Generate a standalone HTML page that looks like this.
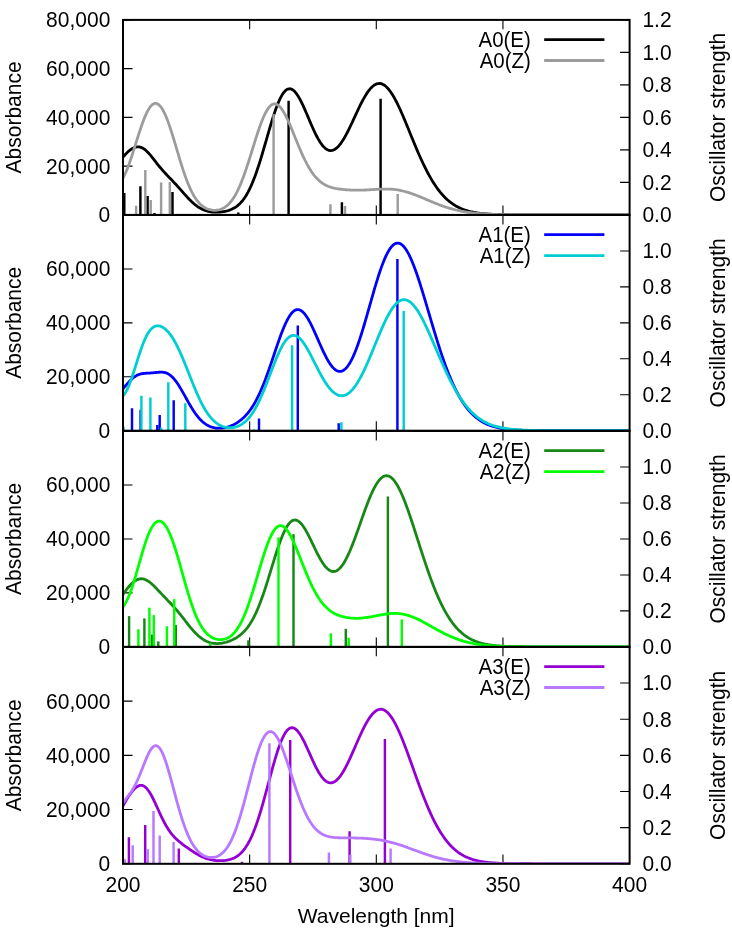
<!DOCTYPE html><html><head><meta charset="utf-8"><style>html,body{margin:0;padding:0;background:#fff;width:732px;height:932px;overflow:hidden}svg{display:block;will-change:transform}</style></head><body>
<svg width="732" height="932" viewBox="0 0 732 932">
<rect width="732" height="932" fill="#fff"/>
<clipPath id="c0"><rect x="123" y="19.9" width="506.6" height="195"/></clipPath>
<path d="M123,214.9h9.5M123,166.15h9.5M123,117.4h9.5M123,68.65h9.5M123,19.9h9.5M629.6,214.9h-9.5M629.6,182.4h-9.5M629.6,149.9h-9.5M629.6,117.4h-9.5M629.6,84.9h-9.5M629.6,52.4h-9.5M629.6,19.9h-9.5M249.65,19.9v9.4M249.65,214.9v-9.4M376.3,19.9v9.4M376.3,214.9v-9.4M502.95,19.9v9.4M502.95,214.9v-9.4" stroke="#000" stroke-width="1.1" fill="none"/>
<g clip-path="url(#c0)"><path d="M123,157.17 124,155.96 125,154.81 126,153.73 127,152.72 128,151.78 129,150.9 130,150.1 131,149.38 132,148.74 133,148.19 134,147.72 135,147.35 136,147.09 137,146.92 138,146.87 139,146.93 140,147.1 141,147.39 142,147.8 143,148.32 144,148.95 145,149.69 146,150.53 147,151.46 148,152.47 149,153.55 150,154.69 151,155.89 152,157.12 153,158.39 154,159.67 155,160.96 156,162.25 157,163.53 158,164.8 159,166.04 160,167.26 161,168.46 162,169.63 163,170.77 164,171.89 165,172.99 166,174.06 167,175.12 168,176.17 169,177.21 170,178.24 171,179.28 172,180.32 173,181.37 174,182.42 175,183.49 176,184.57 177,185.66 178,186.77 179,187.88 180,189.01 181,190.14 182,191.28 183,192.41 184,193.55 185,194.67 186,195.78 187,196.88 188,197.95 189,199 190,200.02 191,201.01 192,201.97 193,202.88 194,203.76 195,204.59 196,205.38 197,206.12 198,206.81 199,207.46 200,208.06 201,208.62 202,209.13 203,209.59 204,210.01 205,210.39 206,210.73 207,211.02 208,211.28 209,211.51 210,211.7 211,211.86 212,211.99 213,212.08 214,212.16 215,212.2 216,212.22 217,212.22 218,212.19 219,212.14 220,212.07 221,211.97 222,211.85 223,211.71 224,211.55 225,211.35 226,211.13 227,210.88 228,210.6 229,210.29 230,209.93 231,209.54 232,209.1 233,208.61 234,208.07 235,207.47 236,206.81 237,206.09 238,205.29 239,204.41 240,203.45 241,202.4 242,201.26 243,200.02 244,198.67 245,197.22 246,195.66 247,193.98 248,192.18 249,190.26 250,188.22 251,186.06 252,183.77 253,181.35 254,178.82 255,176.17 256,173.4 257,170.52 258,167.54 259,164.47 260,161.3 261,158.05 262,154.74 263,151.37 264,147.95 265,144.5 266,141.03 267,137.55 268,134.09 269,130.65 270,127.25 271,123.91 272,120.64 273,117.45 274,114.38 275,111.42 276,108.59 277,105.91 278,103.38 279,101.03 280,98.87 281,96.89 282,95.12 283,93.55 284,92.2 285,91.07 286,90.16 287,89.47 288,89.02 289,88.78 290,88.77 291,88.97 292,89.39 293,90.02 294,90.84 295,91.85 296,93.05 297,94.41 298,95.93 299,97.6 300,99.4 301,101.32 302,103.35 303,105.46 304,107.66 305,109.91 306,112.22 307,114.56 308,116.91 309,119.27 310,121.62 311,123.95 312,126.24 313,128.49 314,130.67 315,132.78 316,134.82 317,136.76 318,138.6 319,140.33 320,141.94 321,143.43 322,144.79 323,146.01 324,147.1 325,148.04 326,148.83 327,149.47 328,149.97 329,150.31 330,150.5 331,150.53 332,150.42 333,150.15 334,149.74 335,149.19 336,148.49 337,147.66 338,146.69 339,145.6 340,144.39 341,143.05 342,141.61 343,140.07 344,138.43 345,136.7 346,134.89 347,133 348,131.05 349,129.05 350,126.99 351,124.9 352,122.77 353,120.62 354,118.46 355,116.29 356,114.13 357,111.99 358,109.86 359,107.77 360,105.72 361,103.71 362,101.76 363,99.88 364,98.06 365,96.33 366,94.68 367,93.12 368,91.66 369,90.31 370,89.07 371,87.94 372,86.93 373,86.04 374,85.28 375,84.65 376,84.14 377,83.78 378,83.54 379,83.45 380,83.48 381,83.66 382,83.96 383,84.41 384,84.98 385,85.68 386,86.51 387,87.47 388,88.54 389,89.74 390,91.04 391,92.46 392,93.98 393,95.6 394,97.31 395,99.11 396,101 397,102.96 398,105 399,107.1 400,109.27 401,111.49 402,113.75 403,116.06 404,118.41 405,120.79 406,123.19 407,125.62 408,128.06 409,130.5 410,132.96 411,135.41 412,137.86 413,140.29 414,142.72 415,145.12 416,147.5 417,149.86 418,152.19 419,154.48 420,156.74 421,158.96 422,161.14 423,163.28 424,165.38 425,167.42 426,169.42 427,171.37 428,173.27 429,175.11 430,176.91 431,178.65 432,180.34 433,181.97 434,183.55 435,185.08 436,186.55 437,187.97 438,189.34 439,190.65 440,191.92 441,193.13 442,194.3 443,195.41 444,196.48 445,197.51 446,198.48 447,199.41 448,200.3 449,201.15 450,201.96 451,202.73 452,203.45 453,204.15 454,204.81 455,205.43 456,206.02 457,206.58 458,207.11 459,207.61 460,208.08 461,208.52 462,208.94 463,209.34 464,209.71 465,210.06 466,210.39 467,210.7 468,210.99 469,211.26 470,211.52 471,211.76 472,211.98 473,212.19 474,212.38 475,212.57 476,212.74 477,212.9 478,213.05 479,213.19 480,213.31 481,213.43 482,213.55 483,213.65 484,213.75 485,213.84 486,213.92 487,214 488,214.07 489,214.13 490,214.19 491,214.25 492,214.3 493,214.35 494,214.4 495,214.44 496,214.48 497,214.51 498,214.54 499,214.57 500,214.6 501,214.63 502,214.65 503,214.67 504,214.69 505,214.71 506,214.72 507,214.74 508,214.75 509,214.77 510,214.78 511,214.79 512,214.8 513,214.81 514,214.82 515,214.82 516,214.83 517,214.84 518,214.84 519,214.85 520,214.85 521,214.86 522,214.86 523,214.86 524,214.87 525,214.87 526,214.87 527,214.88 528,214.88 529,214.88 530,214.88 531,214.88 532,214.89 533,214.89 534,214.89 535,214.89 536,214.89 537,214.89 538,214.89 539,214.89 540,214.89 541,214.89 542,214.89 543,214.9 544,214.9 545,214.9 546,214.9 547,214.9 548,214.9 549,214.9 550,214.9 551,214.9 552,214.9 553,214.9 554,214.9 555,214.9 556,214.9 557,214.9 558,214.9 559,214.9 560,214.9 561,214.9 562,214.9 563,214.9 564,214.9 565,214.9 566,214.9 567,214.9 568,214.9 569,214.9 570,214.9 571,214.9 572,214.9 573,214.9 574,214.9 575,214.9 576,214.9 577,214.9 578,214.9 579,214.9 580,214.9 581,214.9 582,214.9 583,214.9 584,214.9 585,214.9 586,214.9 587,214.9 588,214.9 589,214.9 590,214.9 591,214.9 592,214.9 593,214.9 594,214.9 595,214.9 596,214.9 597,214.9 598,214.9 599,214.9 600,214.9 601,214.9 602,214.9 603,214.9 604,214.9 605,214.9 606,214.9 607,214.9 608,214.9 609,214.9 610,214.9 611,214.9 612,214.9 613,214.9 614,214.9 615,214.9 616,214.9 617,214.9 618,214.9 619,214.9 620,214.9 621,214.9 622,214.9 623,214.9 624,214.9 625,214.9 626,214.9 627,214.9 628,214.9 629,214.9" fill="none" stroke="#000000" stroke-width="2.8" stroke-linejoin="round" stroke-linecap="round"/><line x1="124.3" y1="214.9" x2="124.3" y2="193.1" stroke="#000000" stroke-width="2.45"/><line x1="140.4" y1="214.9" x2="140.4" y2="186.2" stroke="#000000" stroke-width="2.45"/><line x1="147.6" y1="214.9" x2="147.6" y2="195.9" stroke="#000000" stroke-width="2.45"/><line x1="154.5" y1="214.9" x2="154.5" y2="213" stroke="#000000" stroke-width="2.45"/><line x1="172.5" y1="214.9" x2="172.5" y2="192" stroke="#000000" stroke-width="2.45"/><line x1="238.3" y1="214.9" x2="238.3" y2="212.5" stroke="#000000" stroke-width="2.45"/><line x1="288.6" y1="214.9" x2="288.6" y2="100.8" stroke="#000000" stroke-width="2.45"/><line x1="341.9" y1="214.9" x2="341.9" y2="202.3" stroke="#000000" stroke-width="2.45"/><line x1="380.6" y1="214.9" x2="380.6" y2="98.8" stroke="#000000" stroke-width="2.45"/><path d="M123,178.02 124,176.15 125,174.08 126,171.84 127,169.43 128,166.88 129,164.19 130,161.39 131,158.47 132,155.47 133,152.39 134,149.26 135,146.08 136,142.89 137,139.7 138,136.53 139,133.4 140,130.33 141,127.35 142,124.47 143,121.71 144,119.1 145,116.64 146,114.35 147,112.26 148,110.36 149,108.67 150,107.21 151,105.98 152,104.98 153,104.22 154,103.71 155,103.45 156,103.44 157,103.68 158,104.17 159,104.91 160,105.89 161,107.11 162,108.56 163,110.23 164,112.12 165,114.21 166,116.5 167,118.97 168,121.6 169,124.38 170,127.3 171,130.34 172,133.48 173,136.7 174,139.99 175,143.32 176,146.68 177,150.05 178,153.42 179,156.76 180,160.06 181,163.3 182,166.48 183,169.57 184,172.57 185,175.47 186,178.25 187,180.92 188,183.46 189,185.87 190,188.15 191,190.3 192,192.31 193,194.2 194,195.95 195,197.57 196,199.07 197,200.45 198,201.71 199,202.86 200,203.91 201,204.85 202,205.7 203,206.47 204,207.15 205,207.75 206,208.27 207,208.73 208,209.13 209,209.46 210,209.73 211,209.95 212,210.11 213,210.23 214,210.29 215,210.29 216,210.25 217,210.15 218,210 219,209.79 220,209.53 221,209.19 222,208.8 223,208.33 224,207.79 225,207.17 226,206.46 227,205.67 228,204.78 229,203.8 230,202.72 231,201.52 232,200.22 233,198.8 234,197.26 235,195.61 236,193.83 237,191.93 238,189.9 239,187.75 240,185.48 241,183.09 242,180.58 243,177.97 244,175.24 245,172.42 246,169.51 247,166.52 248,163.46 249,160.34 250,157.17 251,153.97 252,150.75 253,147.52 254,144.3 255,141.1 256,137.94 257,134.84 258,131.81 259,128.87 260,126.03 261,123.31 262,120.72 263,118.28 264,115.99 265,113.88 266,111.95 267,110.21 268,108.67 269,107.33 270,106.21 271,105.31 272,104.62 273,104.16 274,103.91 275,103.89 276,104.08 277,104.48 278,105.09 279,105.9 280,106.9 281,108.08 282,109.43 283,110.94 284,112.61 285,114.41 286,116.34 287,118.38 288,120.52 289,122.74 290,125.04 291,127.4 292,129.8 293,132.24 294,134.7 295,137.17 296,139.64 297,142.09 298,144.53 299,146.93 300,149.29 301,151.6 302,153.86 303,156.06 304,158.19 305,160.25 306,162.23 307,164.13 308,165.95 309,167.69 310,169.35 311,170.92 312,172.4 313,173.8 314,175.12 315,176.36 316,177.51 317,178.59 318,179.59 319,180.53 320,181.39 321,182.19 322,182.92 323,183.59 324,184.21 325,184.78 326,185.3 327,185.77 328,186.2 329,186.59 330,186.95 331,187.28 332,187.57 333,187.84 334,188.08 335,188.3 336,188.5 337,188.68 338,188.85 339,189 340,189.13 341,189.26 342,189.37 343,189.48 344,189.57 345,189.66 346,189.74 347,189.81 348,189.88 349,189.93 350,189.99 351,190.03 352,190.07 353,190.1 354,190.13 355,190.15 356,190.16 357,190.17 358,190.17 359,190.17 360,190.16 361,190.14 362,190.12 363,190.09 364,190.06 365,190.02 366,189.98 367,189.93 368,189.88 369,189.82 370,189.76 371,189.71 372,189.64 373,189.58 374,189.52 375,189.46 376,189.4 377,189.34 378,189.28 379,189.23 380,189.18 381,189.14 382,189.11 383,189.08 384,189.06 385,189.05 386,189.04 387,189.05 388,189.07 389,189.1 390,189.15 391,189.2 392,189.27 393,189.36 394,189.45 395,189.57 396,189.69 397,189.83 398,189.99 399,190.16 400,190.35 401,190.55 402,190.77 403,191 404,191.25 405,191.51 406,191.78 407,192.07 408,192.37 409,192.69 410,193.01 411,193.35 412,193.7 413,194.06 414,194.43 415,194.8 416,195.19 417,195.58 418,195.98 419,196.39 420,196.8 421,197.22 422,197.64 423,198.06 424,198.49 425,198.91 426,199.34 427,199.77 428,200.2 429,200.62 430,201.05 431,201.47 432,201.89 433,202.3 434,202.71 435,203.12 436,203.52 437,203.92 438,204.31 439,204.69 440,205.07 441,205.44 442,205.8 443,206.15 444,206.5 445,206.84 446,207.17 447,207.49 448,207.8 449,208.11 450,208.41 451,208.69 452,208.97 453,209.24 454,209.5 455,209.76 456,210 457,210.23 458,210.46 459,210.68 460,210.89 461,211.09 462,211.29 463,211.47 464,211.65 465,211.82 466,211.99 467,212.15 468,212.3 469,212.44 470,212.58 471,212.71 472,212.83 473,212.95 474,213.06 475,213.17 476,213.27 477,213.37 478,213.46 479,213.55 480,213.63 481,213.71 482,213.78 483,213.85 484,213.92 485,213.98 486,214.04 487,214.1 488,214.15 489,214.2 490,214.24 491,214.29 492,214.33 493,214.37 494,214.4 495,214.44 496,214.47 497,214.5 498,214.53 499,214.55 500,214.58 501,214.6 502,214.62 503,214.64 504,214.66 505,214.68 506,214.69 507,214.71 508,214.72 509,214.74 510,214.75 511,214.76 512,214.77 513,214.78 514,214.79 515,214.8 516,214.81 517,214.81 518,214.82 519,214.83 520,214.83 521,214.84 522,214.84 523,214.85 524,214.85 525,214.86 526,214.86 527,214.86 528,214.87 529,214.87 530,214.87 531,214.87 532,214.88 533,214.88 534,214.88 535,214.88 536,214.88 537,214.88 538,214.89 539,214.89 540,214.89 541,214.89 542,214.89 543,214.89 544,214.89 545,214.89 546,214.89 547,214.89 548,214.89 549,214.89 550,214.9 551,214.9 552,214.9 553,214.9 554,214.9 555,214.9 556,214.9 557,214.9 558,214.9 559,214.9 560,214.9 561,214.9 562,214.9 563,214.9 564,214.9 565,214.9 566,214.9 567,214.9 568,214.9 569,214.9 570,214.9 571,214.9 572,214.9 573,214.9 574,214.9 575,214.9 576,214.9 577,214.9 578,214.9 579,214.9 580,214.9 581,214.9 582,214.9 583,214.9 584,214.9 585,214.9 586,214.9 587,214.9 588,214.9 589,214.9 590,214.9 591,214.9 592,214.9 593,214.9 594,214.9 595,214.9 596,214.9 597,214.9 598,214.9 599,214.9 600,214.9 601,214.9 602,214.9 603,214.9 604,214.9 605,214.9 606,214.9 607,214.9 608,214.9 609,214.9 610,214.9 611,214.9 612,214.9 613,214.9 614,214.9 615,214.9 616,214.9 617,214.9 618,214.9 619,214.9 620,214.9 621,214.9 622,214.9 623,214.9 624,214.9 625,214.9 626,214.9 627,214.9 628,214.9 629,214.9" fill="none" stroke="#9c9c9c" stroke-width="2.8" stroke-linejoin="round" stroke-linecap="round"/><line x1="136.1" y1="214.9" x2="136.1" y2="205.7" stroke="#9c9c9c" stroke-width="2.45"/><line x1="145.3" y1="214.9" x2="145.3" y2="170.1" stroke="#9c9c9c" stroke-width="2.45"/><line x1="150.7" y1="214.9" x2="150.7" y2="200" stroke="#9c9c9c" stroke-width="2.45"/><line x1="161.1" y1="214.9" x2="161.1" y2="182.4" stroke="#9c9c9c" stroke-width="2.45"/><line x1="169.8" y1="214.9" x2="169.8" y2="181.9" stroke="#9c9c9c" stroke-width="2.45"/><line x1="273.6" y1="214.9" x2="273.6" y2="114.1" stroke="#9c9c9c" stroke-width="2.45"/><line x1="330.4" y1="214.9" x2="330.4" y2="204.3" stroke="#9c9c9c" stroke-width="2.45"/><line x1="345" y1="214.9" x2="345" y2="206.1" stroke="#9c9c9c" stroke-width="2.45"/><line x1="397.7" y1="214.9" x2="397.7" y2="193.9" stroke="#9c9c9c" stroke-width="2.45"/></g>
<rect x="123" y="19.9" width="506.6" height="195" fill="none" stroke="#000" stroke-width="2"/>
<g font-family="Liberation Sans, sans-serif" font-size="21" fill="#000"><text transform="translate(110.3,222.3) scale(1,1.08)" text-anchor="end">0</text><text transform="translate(110.3,173.55) scale(1,1.08)" text-anchor="end">20,000</text><text transform="translate(110.3,124.8) scale(1,1.08)" text-anchor="end">40,000</text><text transform="translate(110.3,76.05) scale(1,1.08)" text-anchor="end">60,000</text><text transform="translate(110.3,27.3) scale(1,1.08)" text-anchor="end">80,000</text><text transform="translate(642.4,222.3) scale(1,1.08)">0.0</text><text transform="translate(642.4,189.8) scale(1,1.08)">0.2</text><text transform="translate(642.4,157.3) scale(1,1.08)">0.4</text><text transform="translate(642.4,124.8) scale(1,1.08)">0.6</text><text transform="translate(642.4,92.3) scale(1,1.08)">0.8</text><text transform="translate(642.4,59.8) scale(1,1.08)">1.0</text><text transform="translate(642.4,27.3) scale(1,1.08)">1.2</text><text transform="translate(21.2,117.4) rotate(-90) scale(1,1.06)" text-anchor="middle">Absorbance</text><text transform="translate(725.3,117.4) rotate(-90) scale(1,1.07)" text-anchor="middle">Oscillator strength</text><text transform="translate(530.8,46.6) scale(0.975,1.04)" text-anchor="end">A0(E)</text><text transform="translate(530.8,67.5) scale(0.975,1.04)" text-anchor="end">A0(Z)</text></g>
<path d="M544.2,39.6H604.4" stroke="#000000" stroke-width="2.8"/>
<path d="M544.2,60.5H604.4" stroke="#9c9c9c" stroke-width="2.8"/>
<clipPath id="c1"><rect x="123" y="215" width="506.6" height="215.7"/></clipPath>
<path d="M123,430.7h9.5M123,376.77h9.5M123,322.85h9.5M123,268.93h9.5M123,215h9.5M629.6,430.7h-9.5M629.6,394.75h-9.5M629.6,358.8h-9.5M629.6,322.85h-9.5M629.6,286.9h-9.5M629.6,250.95h-9.5M629.6,215h-9.5M249.65,215v9.4M249.65,430.7v-9.4M376.3,215v9.4M376.3,430.7v-9.4M502.95,215v9.4M502.95,430.7v-9.4" stroke="#000" stroke-width="1.1" fill="none"/>
<g clip-path="url(#c1)"><path d="M123,388.83 124,387.62 125,386.42 126,385.24 127,384.08 128,382.94 129,381.85 130,380.8 131,379.81 132,378.88 133,378.02 134,377.23 135,376.52 136,375.89 137,375.34 138,374.87 139,374.47 140,374.14 141,373.88 142,373.67 143,373.51 144,373.39 145,373.3 146,373.23 147,373.18 148,373.13 149,373.08 150,373.03 151,372.97 152,372.89 153,372.81 154,372.72 155,372.61 156,372.51 157,372.4 158,372.31 159,372.23 160,372.18 161,372.16 162,372.19 163,372.27 164,372.41 165,372.63 166,372.93 167,373.31 168,373.79 169,374.37 170,375.06 171,375.85 172,376.75 173,377.75 174,378.86 175,380.07 176,381.37 177,382.77 178,384.25 179,385.81 180,387.43 181,389.11 182,390.83 183,392.59 184,394.38 185,396.18 186,397.99 187,399.79 188,401.57 189,403.33 190,405.06 191,406.75 192,408.39 193,409.98 194,411.5 195,412.97 196,414.37 197,415.69 198,416.95 199,418.13 200,419.24 201,420.27 202,421.23 203,422.12 204,422.94 205,423.69 206,424.37 207,424.99 208,425.54 209,426.03 210,426.47 211,426.85 212,427.18 213,427.46 214,427.69 215,427.88 216,428.02 217,428.12 218,428.18 219,428.21 220,428.19 221,428.15 222,428.06 223,427.94 224,427.79 225,427.61 226,427.39 227,427.14 228,426.86 229,426.55 230,426.2 231,425.82 232,425.4 233,424.95 234,424.46 235,423.93 236,423.37 237,422.76 238,422.11 239,421.42 240,420.68 241,419.9 242,419.06 243,418.17 244,417.23 245,416.23 246,415.16 247,414.04 248,412.85 249,411.59 250,410.25 251,408.85 252,407.36 253,405.8 254,404.15 255,402.43 256,400.61 257,398.71 258,396.72 259,394.65 260,392.48 261,390.23 262,387.9 263,385.48 264,382.98 265,380.4 266,377.75 267,375.04 268,372.26 269,369.43 270,366.55 271,363.63 272,360.69 273,357.72 274,354.74 275,351.77 276,348.81 277,345.87 278,342.97 279,340.11 280,337.32 281,334.6 282,331.97 283,329.44 284,327.01 285,324.7 286,322.53 287,320.5 288,318.62 289,316.89 290,315.34 291,313.96 292,312.77 293,311.75 294,310.93 295,310.3 296,309.87 297,309.62 298,309.58 299,309.72 300,310.05 301,310.57 302,311.27 303,312.14 304,313.17 305,314.37 306,315.72 307,317.21 308,318.82 309,320.56 310,322.41 311,324.36 312,326.39 313,328.49 314,330.66 315,332.87 316,335.12 317,337.4 318,339.68 319,341.96 320,344.23 321,346.48 322,348.69 323,350.85 324,352.95 325,354.98 326,356.93 327,358.79 328,360.56 329,362.21 330,363.76 331,365.18 332,366.47 333,367.62 334,368.63 335,369.49 336,370.2 337,370.75 338,371.15 339,371.37 340,371.44 341,371.33 342,371.05 343,370.6 344,369.98 345,369.18 346,368.21 347,367.08 348,365.77 349,364.3 350,362.67 351,360.87 352,358.92 353,356.82 354,354.57 355,352.18 356,349.66 357,347 358,344.23 359,341.34 360,338.34 361,335.25 362,332.07 363,328.81 364,325.48 365,322.09 366,318.65 367,315.17 368,311.66 369,308.13 370,304.59 371,301.06 372,297.55 373,294.06 374,290.6 375,287.2 376,283.85 377,280.58 378,277.38 379,274.28 380,271.27 381,268.38 382,265.61 383,262.96 384,260.45 385,258.09 386,255.88 387,253.83 388,251.94 389,250.22 390,248.68 391,247.32 392,246.14 393,245.15 394,244.35 395,243.74 396,243.32 397,243.1 398,243.06 399,243.22 400,243.57 401,244.1 402,244.82 403,245.73 404,246.81 405,248.06 406,249.49 407,251.07 408,252.82 409,254.72 410,256.76 411,258.94 412,261.26 413,263.7 414,266.26 415,268.93 416,271.7 417,274.56 418,277.51 419,280.54 420,283.65 421,286.81 422,290.03 423,293.3 424,296.61 425,299.95 426,303.31 427,306.7 428,310.09 429,313.49 430,316.89 431,320.28 432,323.66 433,327.02 434,330.35 435,333.65 436,336.92 437,340.15 438,343.34 439,346.48 440,349.57 441,352.6 442,355.58 443,358.5 444,361.35 445,364.15 446,366.87 447,369.53 448,372.13 449,374.65 450,377.1 451,379.48 452,381.79 453,384.02 454,386.19 455,388.28 456,390.31 457,392.26 458,394.14 459,395.95 460,397.7 461,399.38 462,400.99 463,402.54 464,404.02 465,405.44 466,406.8 467,408.1 468,409.35 469,410.53 470,411.67 471,412.75 472,413.78 473,414.76 474,415.69 475,416.57 476,417.41 477,418.21 478,418.97 479,419.69 480,420.37 481,421.01 482,421.62 483,422.19 484,422.73 485,423.25 486,423.73 487,424.18 488,424.61 489,425.01 490,425.39 491,425.75 492,426.09 493,426.4 494,426.7 495,426.97 496,427.23 497,427.47 498,427.7 499,427.91 500,428.11 501,428.3 502,428.47 503,428.63 504,428.79 505,428.93 506,429.06 507,429.18 508,429.29 509,429.4 510,429.5 511,429.59 512,429.67 513,429.75 514,429.83 515,429.89 516,429.96 517,430.01 518,430.07 519,430.12 520,430.16 521,430.21 522,430.25 523,430.28 524,430.32 525,430.35 526,430.38 527,430.4 528,430.43 529,430.45 530,430.47 531,430.49 532,430.51 533,430.52 534,430.54 535,430.55 536,430.57 537,430.58 538,430.59 539,430.6 540,430.61 541,430.61 542,430.62 543,430.63 544,430.63 545,430.64 546,430.65 547,430.65 548,430.65 549,430.66 550,430.66 551,430.67 552,430.67 553,430.67 554,430.67 555,430.68 556,430.68 557,430.68 558,430.68 559,430.68 560,430.69 561,430.69 562,430.69 563,430.69 564,430.69 565,430.69 566,430.69 567,430.69 568,430.69 569,430.69 570,430.69 571,430.7 572,430.7 573,430.7 574,430.7 575,430.7 576,430.7 577,430.7 578,430.7 579,430.7 580,430.7 581,430.7 582,430.7 583,430.7 584,430.7 585,430.7 586,430.7 587,430.7 588,430.7 589,430.7 590,430.7 591,430.7 592,430.7 593,430.7 594,430.7 595,430.7 596,430.7 597,430.7 598,430.7 599,430.7 600,430.7 601,430.7 602,430.7 603,430.7 604,430.7 605,430.7 606,430.7 607,430.7 608,430.7 609,430.7 610,430.7 611,430.7 612,430.7 613,430.7 614,430.7 615,430.7 616,430.7 617,430.7 618,430.7 619,430.7 620,430.7 621,430.7 622,430.7 623,430.7 624,430.7 625,430.7 626,430.7 627,430.7 628,430.7 629,430.7" fill="none" stroke="#0000ff" stroke-width="2.8" stroke-linejoin="round" stroke-linecap="round"/><line x1="132" y1="430.7" x2="132" y2="408.3" stroke="#0000ff" stroke-width="2.45"/><line x1="140.6" y1="430.7" x2="140.6" y2="409.7" stroke="#0000ff" stroke-width="2.45"/><line x1="157.3" y1="430.7" x2="157.3" y2="425" stroke="#0000ff" stroke-width="2.45"/><line x1="159.7" y1="430.7" x2="159.7" y2="415" stroke="#0000ff" stroke-width="2.45"/><line x1="173.7" y1="430.7" x2="173.7" y2="400.3" stroke="#0000ff" stroke-width="2.45"/><line x1="259" y1="430.7" x2="259" y2="418.5" stroke="#0000ff" stroke-width="2.45"/><line x1="297.8" y1="430.7" x2="297.8" y2="325.6" stroke="#0000ff" stroke-width="2.45"/><line x1="338.7" y1="430.7" x2="338.7" y2="423.3" stroke="#0000ff" stroke-width="2.45"/><line x1="397.4" y1="430.7" x2="397.4" y2="259" stroke="#0000ff" stroke-width="2.45"/><path d="M123,395.84 124,394.72 125,393.34 126,391.7 127,389.82 128,387.69 129,385.35 130,382.8 131,380.08 132,377.2 133,374.2 134,371.1 135,367.94 136,364.75 137,361.55 138,358.38 139,355.27 140,352.24 141,349.32 142,346.52 143,343.87 144,341.38 145,339.07 146,336.95 147,335.01 148,333.27 149,331.72 150,330.36 151,329.2 152,328.22 153,327.41 154,326.78 155,326.31 156,325.99 157,325.82 158,325.79 159,325.88 160,326.1 161,326.44 162,326.89 163,327.44 164,328.11 165,328.87 166,329.74 167,330.71 168,331.77 169,332.94 170,334.2 171,335.56 172,337.02 173,338.58 174,340.23 175,341.98 176,343.82 177,345.75 178,347.76 179,349.85 180,352.03 181,354.27 182,356.57 183,358.93 184,361.34 185,363.8 186,366.29 187,368.8 188,371.33 189,373.87 190,376.41 191,378.94 192,381.45 193,383.93 194,386.39 195,388.8 196,391.16 197,393.47 198,395.72 199,397.91 200,400.02 201,402.06 202,404.03 203,405.91 204,407.71 205,409.42 206,411.05 207,412.59 208,414.04 209,415.41 210,416.7 211,417.9 212,419.01 213,420.05 214,421.01 215,421.89 216,422.7 217,423.44 218,424.11 219,424.72 220,425.26 221,425.74 222,426.17 223,426.53 224,426.85 225,427.11 226,427.33 227,427.49 228,427.61 229,427.68 230,427.7 231,427.68 232,427.61 233,427.5 234,427.33 235,427.12 236,426.86 237,426.54 238,426.17 239,425.74 240,425.26 241,424.71 242,424.09 243,423.41 244,422.66 245,421.84 246,420.94 247,419.96 248,418.9 249,417.75 250,416.51 251,415.19 252,413.78 253,412.27 254,410.68 255,408.99 256,407.21 257,405.34 258,403.38 259,401.33 260,399.2 261,396.99 262,394.71 263,392.36 264,389.95 265,387.48 266,384.96 267,382.41 268,379.82 269,377.21 270,374.6 271,371.98 272,369.37 273,366.79 274,364.23 275,361.73 276,359.27 277,356.89 278,354.58 279,352.37 280,350.25 281,348.24 282,346.35 283,344.59 284,342.97 285,341.49 286,340.16 287,338.98 288,337.97 289,337.12 290,336.43 291,335.92 292,335.57 293,335.39 294,335.38 295,335.53 296,335.85 297,336.32 298,336.95 299,337.73 300,338.64 301,339.69 302,340.86 303,342.16 304,343.56 305,345.06 306,346.66 307,348.33 308,350.08 309,351.89 310,353.75 311,355.66 312,357.59 313,359.55 314,361.53 315,363.51 316,365.49 317,367.45 318,369.4 319,371.31 320,373.19 321,375.03 322,376.82 323,378.56 324,380.24 325,381.85 326,383.39 327,384.85 328,386.23 329,387.54 330,388.75 331,389.88 332,390.91 333,391.85 334,392.69 335,393.43 336,394.07 337,394.61 338,395.05 339,395.38 340,395.61 341,395.73 342,395.75 343,395.66 344,395.46 345,395.15 346,394.74 347,394.22 348,393.6 349,392.87 350,392.04 351,391.11 352,390.07 353,388.94 354,387.7 355,386.38 356,384.95 357,383.44 358,381.83 359,380.14 360,378.37 361,376.52 362,374.59 363,372.59 364,370.53 365,368.4 366,366.21 367,363.97 368,361.69 369,359.36 370,356.99 371,354.59 372,352.17 373,349.73 374,347.28 375,344.83 376,342.38 377,339.93 378,337.5 379,335.09 380,332.72 381,330.38 382,328.08 383,325.83 384,323.63 385,321.5 386,319.44 387,317.45 388,315.55 389,313.73 390,312 391,310.37 392,308.85 393,307.42 394,306.11 395,304.92 396,303.83 397,302.88 398,302.04 399,301.33 400,300.74 401,300.28 402,299.95 403,299.75 404,299.68 405,299.74 406,299.93 407,300.24 408,300.68 409,301.24 410,301.92 411,302.72 412,303.63 413,304.66 414,305.8 415,307.04 416,308.38 417,309.81 418,311.34 419,312.96 420,314.66 421,316.43 422,318.28 423,320.2 424,322.17 425,324.21 426,326.3 427,328.43 428,330.6 429,332.82 430,335.06 431,337.33 432,339.62 433,341.93 434,344.25 435,346.57 436,348.9 437,351.23 438,353.56 439,355.87 440,358.17 441,360.46 442,362.72 443,364.96 444,367.18 445,369.37 446,371.53 447,373.65 448,375.74 449,377.78 450,379.79 451,381.76 452,383.69 453,385.57 454,387.41 455,389.2 456,390.94 457,392.64 458,394.29 459,395.89 460,397.45 461,398.95 462,400.41 463,401.82 464,403.18 465,404.49 466,405.76 467,406.98 468,408.16 469,409.29 470,410.38 471,411.42 472,412.42 473,413.38 474,414.3 475,415.18 476,416.02 477,416.82 478,417.59 479,418.32 480,419.02 481,419.69 482,420.32 483,420.92 484,421.49 485,422.04 486,422.55 487,423.04 488,423.51 489,423.95 490,424.36 491,424.76 492,425.13 493,425.48 494,425.81 495,426.12 496,426.42 497,426.7 498,426.96 499,427.21 500,427.44 501,427.66 502,427.86 503,428.05 504,428.23 505,428.4 506,428.56 507,428.71 508,428.85 509,428.98 510,429.1 511,429.21 512,429.32 513,429.42 514,429.51 515,429.6 516,429.68 517,429.75 518,429.82 519,429.89 520,429.95 521,430.01 522,430.06 523,430.11 524,430.15 525,430.19 526,430.23 527,430.27 528,430.3 529,430.33 530,430.36 531,430.39 532,430.41 533,430.44 534,430.46 535,430.48 536,430.5 537,430.51 538,430.53 539,430.54 540,430.55 541,430.57 542,430.58 543,430.59 544,430.6 545,430.61 546,430.61 547,430.62 548,430.63 549,430.63 550,430.64 551,430.64 552,430.65 553,430.65 554,430.66 555,430.66 556,430.66 557,430.67 558,430.67 559,430.67 560,430.68 561,430.68 562,430.68 563,430.68 564,430.68 565,430.68 566,430.69 567,430.69 568,430.69 569,430.69 570,430.69 571,430.69 572,430.69 573,430.69 574,430.69 575,430.69 576,430.69 577,430.7 578,430.7 579,430.7 580,430.7 581,430.7 582,430.7 583,430.7 584,430.7 585,430.7 586,430.7 587,430.7 588,430.7 589,430.7 590,430.7 591,430.7 592,430.7 593,430.7 594,430.7 595,430.7 596,430.7 597,430.7 598,430.7 599,430.7 600,430.7 601,430.7 602,430.7 603,430.7 604,430.7 605,430.7 606,430.7 607,430.7 608,430.7 609,430.7 610,430.7 611,430.7 612,430.7 613,430.7 614,430.7 615,430.7 616,430.7 617,430.7 618,430.7 619,430.7 620,430.7 621,430.7 622,430.7 623,430.7 624,430.7 625,430.7 626,430.7 627,430.7 628,430.7 629,430.7" fill="none" stroke="#00ced1" stroke-width="2.8" stroke-linejoin="round" stroke-linecap="round"/><line x1="123.5" y1="430.7" x2="123.5" y2="427" stroke="#00ced1" stroke-width="2.45"/><line x1="141.4" y1="430.7" x2="141.4" y2="395.8" stroke="#00ced1" stroke-width="2.45"/><line x1="150.4" y1="430.7" x2="150.4" y2="397.5" stroke="#00ced1" stroke-width="2.45"/><line x1="161.1" y1="430.7" x2="161.1" y2="427.4" stroke="#00ced1" stroke-width="2.45"/><line x1="168.3" y1="430.7" x2="168.3" y2="382.2" stroke="#00ced1" stroke-width="2.45"/><line x1="185.3" y1="430.7" x2="185.3" y2="403.2" stroke="#00ced1" stroke-width="2.45"/><line x1="254.1" y1="430.7" x2="254.1" y2="429.6" stroke="#00ced1" stroke-width="2.45"/><line x1="292.1" y1="430.7" x2="292.1" y2="345.2" stroke="#00ced1" stroke-width="2.45"/><line x1="341.4" y1="430.7" x2="341.4" y2="422.2" stroke="#00ced1" stroke-width="2.45"/><line x1="403.7" y1="430.7" x2="403.7" y2="311" stroke="#00ced1" stroke-width="2.45"/></g>
<rect x="123" y="215" width="506.6" height="215.7" fill="none" stroke="#000" stroke-width="2"/>
<g font-family="Liberation Sans, sans-serif" font-size="21" fill="#000"><text transform="translate(110.3,438.1) scale(1,1.08)" text-anchor="end">0</text><text transform="translate(110.3,384.17) scale(1,1.08)" text-anchor="end">20,000</text><text transform="translate(110.3,330.25) scale(1,1.08)" text-anchor="end">40,000</text><text transform="translate(110.3,276.32) scale(1,1.08)" text-anchor="end">60,000</text><text transform="translate(642.4,438.1) scale(1,1.08)">0.0</text><text transform="translate(642.4,402.15) scale(1,1.08)">0.2</text><text transform="translate(642.4,366.2) scale(1,1.08)">0.4</text><text transform="translate(642.4,330.25) scale(1,1.08)">0.6</text><text transform="translate(642.4,294.3) scale(1,1.08)">0.8</text><text transform="translate(642.4,258.35) scale(1,1.08)">1.0</text><text transform="translate(21.2,322.85) rotate(-90) scale(1,1.06)" text-anchor="middle">Absorbance</text><text transform="translate(725.3,322.85) rotate(-90) scale(1,1.07)" text-anchor="middle">Oscillator strength</text><text transform="translate(530.8,241.7) scale(0.975,1.04)" text-anchor="end">A1(E)</text><text transform="translate(530.8,262.6) scale(0.975,1.04)" text-anchor="end">A1(Z)</text></g>
<path d="M544.2,234.7H604.4" stroke="#0000ff" stroke-width="2.8"/>
<path d="M544.2,255.6H604.4" stroke="#00ced1" stroke-width="2.8"/>
<clipPath id="c2"><rect x="123" y="431" width="506.6" height="215.9"/></clipPath>
<path d="M123,646.9h9.5M123,592.92h9.5M123,538.95h9.5M123,484.98h9.5M123,431h9.5M629.6,646.9h-9.5M629.6,610.92h-9.5M629.6,574.93h-9.5M629.6,538.95h-9.5M629.6,502.97h-9.5M629.6,466.98h-9.5M629.6,431h-9.5M249.65,431v9.4M249.65,646.9v-9.4M376.3,431v9.4M376.3,646.9v-9.4M502.95,431v9.4M502.95,646.9v-9.4" stroke="#000" stroke-width="1.1" fill="none"/>
<g clip-path="url(#c2)"><path d="M123,594.43 124,593 125,591.61 126,590.26 127,588.95 128,587.69 129,586.5 130,585.37 131,584.31 132,583.32 133,582.42 134,581.61 135,580.9 136,580.28 137,579.76 138,579.35 139,579.05 140,578.85 141,578.76 142,578.78 143,578.91 144,579.14 145,579.48 146,579.91 147,580.43 148,581.03 149,581.72 150,582.47 151,583.29 152,584.17 153,585.09 154,586.05 155,587.05 156,588.07 157,589.11 158,590.16 159,591.22 160,592.28 161,593.34 162,594.4 163,595.45 164,596.5 165,597.54 166,598.58 167,599.62 168,600.66 169,601.71 170,602.76 171,603.82 172,604.89 173,605.98 174,607.08 175,608.21 176,609.35 177,610.52 178,611.71 179,612.92 180,614.14 181,615.39 182,616.65 183,617.92 184,619.2 185,620.49 186,621.77 187,623.05 188,624.32 189,625.57 190,626.81 191,628.02 192,629.2 193,630.35 194,631.47 195,632.54 196,633.57 197,634.55 198,635.48 199,636.37 200,637.2 201,637.97 202,638.7 203,639.37 204,639.98 205,640.55 206,641.06 207,641.51 208,641.92 209,642.28 210,642.58 211,642.85 212,643.06 213,643.24 214,643.37 215,643.46 216,643.52 217,643.53 218,643.51 219,643.46 220,643.38 221,643.26 222,643.11 223,642.93 224,642.73 225,642.49 226,642.23 227,641.94 228,641.62 229,641.28 230,640.9 231,640.5 232,640.06 233,639.59 234,639.09 235,638.55 236,637.97 237,637.36 238,636.69 239,635.98 240,635.22 241,634.41 242,633.53 243,632.6 244,631.59 245,630.52 246,629.37 247,628.13 248,626.82 249,625.41 250,623.91 251,622.31 252,620.62 253,618.82 254,616.92 255,614.9 256,612.79 257,610.56 258,608.22 259,605.78 260,603.23 261,600.58 262,597.84 263,595 264,592.08 265,589.07 266,586 267,582.87 268,579.68 269,576.45 270,573.2 271,569.93 272,566.65 273,563.38 274,560.14 275,556.94 276,553.78 277,550.7 278,547.69 279,544.78 280,541.98 281,539.3 282,536.75 283,534.35 284,532.11 285,530.03 286,528.14 287,526.43 288,524.91 289,523.59 290,522.47 291,521.56 292,520.85 293,520.35 294,520.06 295,519.98 296,520.1 297,520.41 298,520.91 299,521.6 300,522.47 301,523.5 302,524.69 303,526.02 304,527.49 305,529.08 306,530.78 307,532.57 308,534.45 309,536.4 310,538.4 311,540.45 312,542.52 313,544.6 314,546.69 315,548.76 316,550.8 317,552.81 318,554.76 319,556.65 320,558.47 321,560.21 322,561.84 323,563.38 324,564.8 325,566.11 326,567.28 327,568.32 328,569.23 329,569.98 330,570.59 331,571.05 332,571.35 333,571.5 334,571.48 335,571.3 336,570.97 337,570.47 338,569.81 339,569 340,568.03 341,566.91 342,565.64 343,564.22 344,562.67 345,560.98 346,559.16 347,557.21 348,555.15 349,552.97 350,550.69 351,548.32 352,545.86 353,543.32 354,540.7 355,538.03 356,535.31 357,532.54 358,529.73 359,526.91 360,524.07 361,521.23 362,518.39 363,515.57 364,512.78 365,510.02 366,507.32 367,504.66 368,502.08 369,499.57 370,497.14 371,494.81 372,492.58 373,490.46 374,488.46 375,486.58 376,484.84 377,483.23 378,481.77 379,480.46 380,479.3 381,478.3 382,477.46 383,476.78 384,476.27 385,475.93 386,475.76 387,475.76 388,475.92 389,476.26 390,476.77 391,477.44 392,478.27 393,479.27 394,480.42 395,481.73 396,483.18 397,484.78 398,486.52 399,488.4 400,490.4 401,492.52 402,494.76 403,497.11 404,499.56 405,502.1 406,504.73 407,507.45 408,510.23 409,513.09 410,516 411,518.96 412,521.97 413,525.02 414,528.1 415,531.2 416,534.32 417,537.45 418,540.58 419,543.72 420,546.84 421,549.96 422,553.05 423,556.13 424,559.17 425,562.18 426,565.16 427,568.09 428,570.98 429,573.83 430,576.62 431,579.36 432,582.04 433,584.67 434,587.23 435,589.73 436,592.17 437,594.55 438,596.86 439,599.1 440,601.28 441,603.38 442,605.43 443,607.4 444,609.31 445,611.15 446,612.92 447,614.63 448,616.28 449,617.86 450,619.37 451,620.83 452,622.23 453,623.56 454,624.84 455,626.06 456,627.23 457,628.35 458,629.41 459,630.42 460,631.38 461,632.3 462,633.17 463,634 464,634.78 465,635.53 466,636.23 467,636.9 468,637.53 469,638.13 470,638.69 471,639.22 472,639.72 473,640.19 474,640.64 475,641.06 476,641.45 477,641.82 478,642.17 479,642.49 480,642.8 481,643.09 482,643.35 483,643.61 484,643.84 485,644.06 486,644.27 487,644.46 488,644.64 489,644.8 490,644.96 491,645.1 492,645.24 493,645.37 494,645.48 495,645.59 496,645.69 497,645.78 498,645.87 499,645.95 500,646.03 501,646.1 502,646.16 503,646.22 504,646.27 505,646.32 506,646.37 507,646.41 508,646.45 509,646.49 510,646.52 511,646.56 512,646.58 513,646.61 514,646.64 515,646.66 516,646.68 517,646.7 518,646.71 519,646.73 520,646.75 521,646.76 522,646.77 523,646.78 524,646.79 525,646.8 526,646.81 527,646.82 528,646.83 529,646.83 530,646.84 531,646.84 532,646.85 533,646.85 534,646.86 535,646.86 536,646.87 537,646.87 538,646.87 539,646.87 540,646.88 541,646.88 542,646.88 543,646.88 544,646.88 545,646.89 546,646.89 547,646.89 548,646.89 549,646.89 550,646.89 551,646.89 552,646.89 553,646.89 554,646.89 555,646.89 556,646.9 557,646.9 558,646.9 559,646.9 560,646.9 561,646.9 562,646.9 563,646.9 564,646.9 565,646.9 566,646.9 567,646.9 568,646.9 569,646.9 570,646.9 571,646.9 572,646.9 573,646.9 574,646.9 575,646.9 576,646.9 577,646.9 578,646.9 579,646.9 580,646.9 581,646.9 582,646.9 583,646.9 584,646.9 585,646.9 586,646.9 587,646.9 588,646.9 589,646.9 590,646.9 591,646.9 592,646.9 593,646.9 594,646.9 595,646.9 596,646.9 597,646.9 598,646.9 599,646.9 600,646.9 601,646.9 602,646.9 603,646.9 604,646.9 605,646.9 606,646.9 607,646.9 608,646.9 609,646.9 610,646.9 611,646.9 612,646.9 613,646.9 614,646.9 615,646.9 616,646.9 617,646.9 618,646.9 619,646.9 620,646.9 621,646.9 622,646.9 623,646.9 624,646.9 625,646.9 626,646.9 627,646.9 628,646.9 629,646.9" fill="none" stroke="#168816" stroke-width="2.8" stroke-linejoin="round" stroke-linecap="round"/><line x1="129.1" y1="646.9" x2="129.1" y2="616.1" stroke="#168816" stroke-width="2.45"/><line x1="144.4" y1="646.9" x2="144.4" y2="618.4" stroke="#168816" stroke-width="2.45"/><line x1="152" y1="646.9" x2="152" y2="634.5" stroke="#168816" stroke-width="2.45"/><line x1="158.3" y1="646.9" x2="158.3" y2="641.4" stroke="#168816" stroke-width="2.45"/><line x1="175.8" y1="646.9" x2="175.8" y2="624.9" stroke="#168816" stroke-width="2.45"/><line x1="248.4" y1="646.9" x2="248.4" y2="640.3" stroke="#168816" stroke-width="2.45"/><line x1="293.5" y1="646.9" x2="293.5" y2="534.2" stroke="#168816" stroke-width="2.45"/><line x1="345.8" y1="646.9" x2="345.8" y2="628.8" stroke="#168816" stroke-width="2.45"/><line x1="387.9" y1="646.9" x2="387.9" y2="496.6" stroke="#168816" stroke-width="2.45"/><path d="M123,607.01 124,605.55 125,603.93 126,602.15 127,600.19 128,598.04 129,595.7 130,593.18 131,590.48 132,587.61 133,584.57 134,581.4 135,578.1 136,574.71 137,571.23 138,567.71 139,564.17 140,560.63 141,557.12 142,553.66 143,550.3 144,547.04 145,543.9 146,540.92 147,538.11 148,535.48 149,533.05 150,530.82 151,528.82 152,527.03 153,525.48 154,524.16 155,523.07 156,522.22 157,521.6 158,521.22 159,521.08 160,521.17 161,521.49 162,522.04 163,522.81 164,523.81 165,525.02 166,526.45 167,528.09 168,529.94 169,531.99 170,534.22 171,536.65 172,539.24 173,542 174,544.91 175,547.95 176,551.13 177,554.41 178,557.78 179,561.23 180,564.74 181,568.29 182,571.86 183,575.44 184,579.01 185,582.55 186,586.05 187,589.48 188,592.84 189,596.12 190,599.29 191,602.36 192,605.31 193,608.13 194,610.83 195,613.39 196,615.81 197,618.09 198,620.23 199,622.24 200,624.1 201,625.84 202,627.44 203,628.92 204,630.27 205,631.51 206,632.64 207,633.67 208,634.59 209,635.42 210,636.17 211,636.83 212,637.41 213,637.91 214,638.35 215,638.72 216,639.02 217,639.26 218,639.44 219,639.56 220,639.62 221,639.61 222,639.55 223,639.43 224,639.24 225,638.98 226,638.65 227,638.25 228,637.78 229,637.22 230,636.57 231,635.84 232,635.01 233,634.08 234,633.05 235,631.91 236,630.66 237,629.29 238,627.8 239,626.19 240,624.46 241,622.59 242,620.6 243,618.48 244,616.23 245,613.85 246,611.35 247,608.73 248,606 249,603.15 250,600.2 251,597.15 252,594.02 253,590.81 254,587.53 255,584.21 256,580.84 257,577.44 258,574.04 259,570.63 260,567.25 261,563.9 262,560.6 263,557.36 264,554.21 265,551.16 266,548.22 267,545.41 268,542.74 269,540.23 270,537.89 271,535.72 272,533.75 273,531.98 274,530.42 275,529.07 276,527.94 277,527.04 278,526.36 279,525.91 280,525.68 281,525.68 282,525.9 283,526.33 284,526.97 285,527.82 286,528.85 287,530.08 288,531.47 289,533.03 290,534.75 291,536.6 292,538.58 293,540.67 294,542.86 295,545.14 296,547.5 297,549.92 298,552.38 299,554.88 300,557.41 301,559.94 302,562.48 303,565.01 304,567.52 305,570.01 306,572.45 307,574.86 308,577.21 309,579.5 310,581.73 311,583.9 312,585.99 313,588.01 314,589.95 315,591.81 316,593.6 317,595.3 318,596.92 319,598.46 320,599.92 321,601.31 322,602.61 323,603.84 324,605 325,606.09 326,607.11 327,608.07 328,608.96 329,609.8 330,610.57 331,611.3 332,611.97 333,612.59 334,613.17 335,613.71 336,614.2 337,614.66 338,615.08 339,615.47 340,615.82 341,616.15 342,616.45 343,616.72 344,616.97 345,617.19 346,617.39 347,617.56 348,617.72 349,617.86 350,617.98 351,618.07 352,618.15 353,618.22 354,618.26 355,618.29 356,618.3 357,618.3 358,618.28 359,618.24 360,618.19 361,618.12 362,618.05 363,617.95 364,617.85 365,617.73 366,617.6 367,617.46 368,617.31 369,617.15 370,616.98 371,616.8 372,616.62 373,616.43 374,616.24 375,616.04 376,615.84 377,615.64 378,615.44 379,615.25 380,615.05 381,614.87 382,614.68 383,614.51 384,614.34 385,614.18 386,614.03 387,613.9 388,613.78 389,613.67 390,613.58 391,613.5 392,613.44 393,613.4 394,613.38 395,613.38 396,613.41 397,613.45 398,613.51 399,613.6 400,613.7 401,613.84 402,613.99 403,614.17 404,614.36 405,614.59 406,614.83 407,615.1 408,615.38 409,615.69 410,616.02 411,616.38 412,616.75 413,617.13 414,617.54 415,617.97 416,618.41 417,618.86 418,619.33 419,619.82 420,620.31 421,620.82 422,621.34 423,621.87 424,622.41 425,622.95 426,623.5 427,624.05 428,624.61 429,625.18 430,625.74 431,626.31 432,626.87 433,627.44 434,628 435,628.56 436,629.12 437,629.68 438,630.22 439,630.77 440,631.3 441,631.84 442,632.36 443,632.87 444,633.38 445,633.88 446,634.37 447,634.84 448,635.31 449,635.77 450,636.22 451,636.65 452,637.08 453,637.49 454,637.89 455,638.29 456,638.67 457,639.03 458,639.39 459,639.73 460,640.07 461,640.39 462,640.7 463,641 464,641.29 465,641.57 466,641.84 467,642.09 468,642.34 469,642.58 470,642.8 471,643.02 472,643.23 473,643.43 474,643.62 475,643.8 476,643.97 477,644.14 478,644.29 479,644.44 480,644.59 481,644.72 482,644.85 483,644.97 484,645.09 485,645.2 486,645.3 487,645.4 488,645.49 489,645.58 490,645.66 491,645.74 492,645.82 493,645.89 494,645.95 495,646.01 496,646.07 497,646.13 498,646.18 499,646.23 500,646.27 501,646.32 502,646.36 503,646.39 504,646.43 505,646.46 506,646.49 507,646.52 508,646.55 509,646.57 510,646.6 511,646.62 512,646.64 513,646.66 514,646.68 515,646.69 516,646.71 517,646.72 518,646.74 519,646.75 520,646.76 521,646.77 522,646.78 523,646.79 524,646.8 525,646.81 526,646.81 527,646.82 528,646.83 529,646.83 530,646.84 531,646.84 532,646.85 533,646.85 534,646.86 535,646.86 536,646.86 537,646.87 538,646.87 539,646.87 540,646.87 541,646.88 542,646.88 543,646.88 544,646.88 545,646.88 546,646.88 547,646.89 548,646.89 549,646.89 550,646.89 551,646.89 552,646.89 553,646.89 554,646.89 555,646.89 556,646.89 557,646.89 558,646.89 559,646.9 560,646.9 561,646.9 562,646.9 563,646.9 564,646.9 565,646.9 566,646.9 567,646.9 568,646.9 569,646.9 570,646.9 571,646.9 572,646.9 573,646.9 574,646.9 575,646.9 576,646.9 577,646.9 578,646.9 579,646.9 580,646.9 581,646.9 582,646.9 583,646.9 584,646.9 585,646.9 586,646.9 587,646.9 588,646.9 589,646.9 590,646.9 591,646.9 592,646.9 593,646.9 594,646.9 595,646.9 596,646.9 597,646.9 598,646.9 599,646.9 600,646.9 601,646.9 602,646.9 603,646.9 604,646.9 605,646.9 606,646.9 607,646.9 608,646.9 609,646.9 610,646.9 611,646.9 612,646.9 613,646.9 614,646.9 615,646.9 616,646.9 617,646.9 618,646.9 619,646.9 620,646.9 621,646.9 622,646.9 623,646.9 624,646.9 625,646.9 626,646.9 627,646.9 628,646.9 629,646.9" fill="none" stroke="#00ff00" stroke-width="2.8" stroke-linejoin="round" stroke-linecap="round"/><line x1="138.4" y1="646.9" x2="138.4" y2="629.2" stroke="#00ff00" stroke-width="2.45"/><line x1="149.4" y1="646.9" x2="149.4" y2="607.7" stroke="#00ff00" stroke-width="2.45"/><line x1="153.8" y1="646.9" x2="153.8" y2="615.1" stroke="#00ff00" stroke-width="2.45"/><line x1="166.9" y1="646.9" x2="166.9" y2="626.3" stroke="#00ff00" stroke-width="2.45"/><line x1="174.2" y1="646.9" x2="174.2" y2="599.1" stroke="#00ff00" stroke-width="2.45"/><line x1="210.2" y1="646.9" x2="210.2" y2="643.4" stroke="#00ff00" stroke-width="2.45"/><line x1="239.1" y1="646.9" x2="239.1" y2="645.4" stroke="#00ff00" stroke-width="2.45"/><line x1="278.5" y1="646.9" x2="278.5" y2="537.3" stroke="#00ff00" stroke-width="2.45"/><line x1="330.9" y1="646.9" x2="330.9" y2="633.3" stroke="#00ff00" stroke-width="2.45"/><line x1="348.7" y1="646.9" x2="348.7" y2="637.8" stroke="#00ff00" stroke-width="2.45"/><line x1="401.8" y1="646.9" x2="401.8" y2="619.4" stroke="#00ff00" stroke-width="2.45"/></g>
<rect x="123" y="431" width="506.6" height="215.9" fill="none" stroke="#000" stroke-width="2"/>
<g font-family="Liberation Sans, sans-serif" font-size="21" fill="#000"><text transform="translate(110.3,654.3) scale(1,1.08)" text-anchor="end">0</text><text transform="translate(110.3,600.32) scale(1,1.08)" text-anchor="end">20,000</text><text transform="translate(110.3,546.35) scale(1,1.08)" text-anchor="end">40,000</text><text transform="translate(110.3,492.38) scale(1,1.08)" text-anchor="end">60,000</text><text transform="translate(642.4,654.3) scale(1,1.08)">0.0</text><text transform="translate(642.4,618.32) scale(1,1.08)">0.2</text><text transform="translate(642.4,582.33) scale(1,1.08)">0.4</text><text transform="translate(642.4,546.35) scale(1,1.08)">0.6</text><text transform="translate(642.4,510.37) scale(1,1.08)">0.8</text><text transform="translate(642.4,474.38) scale(1,1.08)">1.0</text><text transform="translate(21.2,538.95) rotate(-90) scale(1,1.06)" text-anchor="middle">Absorbance</text><text transform="translate(725.3,538.95) rotate(-90) scale(1,1.07)" text-anchor="middle">Oscillator strength</text><text transform="translate(530.8,457.7) scale(0.975,1.04)" text-anchor="end">A2(E)</text><text transform="translate(530.8,478.6) scale(0.975,1.04)" text-anchor="end">A2(Z)</text></g>
<path d="M544.2,450.7H604.4" stroke="#168816" stroke-width="2.8"/>
<path d="M544.2,471.6H604.4" stroke="#00ff00" stroke-width="2.8"/>
<clipPath id="c3"><rect x="123" y="646.9" width="506.6" height="216.9"/></clipPath>
<path d="M123,863.8h9.5M123,809.57h9.5M123,755.35h9.5M123,701.12h9.5M123,646.9h9.5M629.6,863.8h-9.5M629.6,827.65h-9.5M629.6,791.5h-9.5M629.6,755.35h-9.5M629.6,719.2h-9.5M629.6,683.05h-9.5M629.6,646.9h-9.5M249.65,646.9v9.4M249.65,863.8v-9.4M376.3,646.9v9.4M376.3,863.8v-9.4M502.95,646.9v9.4M502.95,863.8v-9.4" stroke="#000" stroke-width="1.1" fill="none"/>
<g clip-path="url(#c3)"><path d="M123,805.8 124,803.99 125,802.24 126,800.54 127,798.89 128,797.31 129,795.79 130,794.34 131,792.96 132,791.66 133,790.45 134,789.34 135,788.35 136,787.47 137,786.73 138,786.13 139,785.7 140,785.43 141,785.33 142,785.42 143,785.71 144,786.18 145,786.85 146,787.72 147,788.77 148,790.01 149,791.41 150,792.98 151,794.69 152,796.54 153,798.49 154,800.54 155,802.65 156,804.83 157,807.03 158,809.24 159,811.46 160,813.64 161,815.79 162,817.89 163,819.92 164,821.88 165,823.76 166,825.55 167,827.24 168,828.85 169,830.36 170,831.79 171,833.13 172,834.38 173,835.56 174,836.67 175,837.71 176,838.7 177,839.64 178,840.53 179,841.39 180,842.22 181,843.01 182,843.79 183,844.55 184,845.3 185,846.03 186,846.76 187,847.48 188,848.18 189,848.88 190,849.57 191,850.26 192,850.93 193,851.59 194,852.23 195,852.86 196,853.47 197,854.07 198,854.64 199,855.19 200,855.72 201,856.22 202,856.7 203,857.14 204,857.57 205,857.96 206,858.33 207,858.67 208,858.98 209,859.26 210,859.52 211,859.75 212,859.96 213,860.14 214,860.29 215,860.42 216,860.53 217,860.61 218,860.67 219,860.71 220,860.72 221,860.71 222,860.68 223,860.63 224,860.54 225,860.44 226,860.3 227,860.14 228,859.94 229,859.71 230,859.44 231,859.14 232,858.79 233,858.39 234,857.95 235,857.45 236,856.89 237,856.26 238,855.56 239,854.8 240,853.94 241,853.01 242,851.98 243,850.86 244,849.63 245,848.3 246,846.85 247,845.29 248,843.6 249,841.79 250,839.85 251,837.79 252,835.59 253,833.25 254,830.78 255,828.18 256,825.45 257,822.6 258,819.62 259,816.52 260,813.31 261,809.99 262,806.59 263,803.09 264,799.53 265,795.9 266,792.22 267,788.5 268,784.77 269,781.03 270,777.3 271,773.59 272,769.93 273,766.33 274,762.8 275,759.37 276,756.04 277,752.84 278,749.78 279,746.88 280,744.14 281,741.58 282,739.21 283,737.05 284,735.1 285,733.36 286,731.85 287,730.58 288,729.53 289,728.72 290,728.14 291,727.8 292,727.69 293,727.8 294,728.14 295,728.68 296,729.43 297,730.38 298,731.51 299,732.81 300,734.27 301,735.88 302,737.61 303,739.47 304,741.42 305,743.47 306,745.58 307,747.75 308,749.96 309,752.19 310,754.43 311,756.67 312,758.89 313,761.07 314,763.2 315,765.28 316,767.28 317,769.19 318,771.02 319,772.74 320,774.34 321,775.83 322,777.19 323,778.41 324,779.49 325,780.43 326,781.22 327,781.86 328,782.35 329,782.68 330,782.86 331,782.88 332,782.75 333,782.46 334,782.03 335,781.45 336,780.72 337,779.85 338,778.84 339,777.71 340,776.45 341,775.07 342,773.57 343,771.97 344,770.26 345,768.47 346,766.58 347,764.62 348,762.59 349,760.5 350,758.35 351,756.16 352,753.93 353,751.67 354,749.39 355,747.1 356,744.81 357,742.52 358,740.25 359,738 360,735.79 361,733.61 362,731.49 363,729.42 364,727.42 365,725.48 366,723.63 367,721.86 368,720.19 369,718.61 370,717.15 371,715.79 372,714.55 373,713.43 374,712.43 375,711.57 376,710.83 377,710.24 378,709.78 379,709.46 380,709.28 381,709.25 382,709.36 383,709.61 384,710 385,710.54 386,711.22 387,712.03 388,712.99 389,714.07 390,715.29 391,716.63 392,718.1 393,719.69 394,721.39 395,723.2 396,725.11 397,727.13 398,729.24 399,731.43 400,733.71 401,736.07 402,738.49 403,740.98 404,743.53 405,746.13 406,748.78 407,751.46 408,754.18 409,756.93 410,759.7 411,762.49 412,765.28 413,768.08 414,770.88 415,773.68 416,776.46 417,779.23 418,781.98 419,784.7 420,787.4 421,790.07 422,792.7 423,795.29 424,797.84 425,800.35 426,802.81 427,805.22 428,807.58 429,809.88 430,812.14 431,814.33 432,816.47 433,818.55 434,820.57 435,822.54 436,824.44 437,826.28 438,828.06 439,829.79 440,831.45 441,833.05 442,834.6 443,836.08 444,837.51 445,838.89 446,840.2 447,841.47 448,842.68 449,843.84 450,844.94 451,846 452,847.01 453,847.97 454,848.89 455,849.77 456,850.6 457,851.39 458,852.14 459,852.85 460,853.52 461,854.16 462,854.76 463,855.34 464,855.88 465,856.39 466,856.87 467,857.32 468,857.75 469,858.15 470,858.53 471,858.89 472,859.23 473,859.54 474,859.84 475,860.11 476,860.37 477,860.61 478,860.84 479,861.05 480,861.25 481,861.44 482,861.61 483,861.77 484,861.92 485,862.06 486,862.19 487,862.32 488,862.43 489,862.53 490,862.63 491,862.72 492,862.81 493,862.88 494,862.96 495,863.02 496,863.09 497,863.14 498,863.2 499,863.24 500,863.29 501,863.33 502,863.37 503,863.41 504,863.44 505,863.47 506,863.5 507,863.52 508,863.55 509,863.57 510,863.59 511,863.61 512,863.62 513,863.64 514,863.65 515,863.66 516,863.68 517,863.69 518,863.7 519,863.71 520,863.71 521,863.72 522,863.73 523,863.74 524,863.74 525,863.75 526,863.75 527,863.76 528,863.76 529,863.76 530,863.77 531,863.77 532,863.77 533,863.78 534,863.78 535,863.78 536,863.78 537,863.78 538,863.79 539,863.79 540,863.79 541,863.79 542,863.79 543,863.79 544,863.79 545,863.79 546,863.79 547,863.79 548,863.79 549,863.8 550,863.8 551,863.8 552,863.8 553,863.8 554,863.8 555,863.8 556,863.8 557,863.8 558,863.8 559,863.8 560,863.8 561,863.8 562,863.8 563,863.8 564,863.8 565,863.8 566,863.8 567,863.8 568,863.8 569,863.8 570,863.8 571,863.8 572,863.8 573,863.8 574,863.8 575,863.8 576,863.8 577,863.8 578,863.8 579,863.8 580,863.8 581,863.8 582,863.8 583,863.8 584,863.8 585,863.8 586,863.8 587,863.8 588,863.8 589,863.8 590,863.8 591,863.8 592,863.8 593,863.8 594,863.8 595,863.8 596,863.8 597,863.8 598,863.8 599,863.8 600,863.8 601,863.8 602,863.8 603,863.8 604,863.8 605,863.8 606,863.8 607,863.8 608,863.8 609,863.8 610,863.8 611,863.8 612,863.8 613,863.8 614,863.8 615,863.8 616,863.8 617,863.8 618,863.8 619,863.8 620,863.8 621,863.8 622,863.8 623,863.8 624,863.8 625,863.8 626,863.8 627,863.8 628,863.8 629,863.8" fill="none" stroke="#9400d3" stroke-width="2.8" stroke-linejoin="round" stroke-linecap="round"/><line x1="128.9" y1="863.8" x2="128.9" y2="837.2" stroke="#9400d3" stroke-width="2.45"/><line x1="145.2" y1="863.8" x2="145.2" y2="824.9" stroke="#9400d3" stroke-width="2.45"/><line x1="178.8" y1="863.8" x2="178.8" y2="848.5" stroke="#9400d3" stroke-width="2.45"/><line x1="242" y1="863.8" x2="242" y2="861.8" stroke="#9400d3" stroke-width="2.45"/><line x1="290.2" y1="863.8" x2="290.2" y2="740.1" stroke="#9400d3" stroke-width="2.45"/><line x1="349.6" y1="863.8" x2="349.6" y2="831.2" stroke="#9400d3" stroke-width="2.45"/><line x1="384.9" y1="863.8" x2="384.9" y2="739" stroke="#9400d3" stroke-width="2.45"/><path d="M123,802.86 124,801.43 125,800.06 126,798.73 127,797.43 128,796.12 129,794.8 130,793.42 131,791.99 132,790.47 133,788.85 134,787.13 135,785.28 136,783.32 137,781.23 138,779.02 139,776.71 140,774.3 141,771.82 142,769.3 143,766.74 144,764.2 145,761.69 146,759.25 147,756.91 148,754.72 149,752.69 150,750.87 151,749.28 152,747.96 153,746.91 154,746.17 155,745.75 156,745.66 157,745.91 158,746.5 159,747.42 160,748.68 161,750.26 162,752.15 163,754.32 164,756.77 165,759.47 166,762.39 167,765.52 168,768.81 169,772.25 170,775.8 171,779.44 172,783.15 173,786.9 174,790.66 175,794.41 176,798.12 177,801.79 178,805.39 179,808.91 180,812.32 181,815.63 182,818.82 183,821.88 184,824.81 185,827.6 186,830.24 187,832.74 188,835.1 189,837.31 190,839.38 191,841.31 192,843.1 193,844.76 194,846.29 195,847.7 196,848.99 197,850.17 198,851.24 199,852.2 200,853.07 201,853.85 202,854.55 203,855.16 204,855.69 205,856.15 206,856.54 207,856.86 208,857.11 209,857.3 210,857.43 211,857.49 212,857.49 213,857.42 214,857.29 215,857.09 216,856.81 217,856.46 218,856.03 219,855.52 220,854.92 221,854.22 222,853.43 223,852.53 224,851.51 225,850.38 226,849.13 227,847.75 228,846.24 229,844.59 230,842.8 231,840.86 232,838.78 233,836.55 234,834.16 235,831.63 236,828.95 237,826.12 238,823.15 239,820.05 240,816.81 241,813.46 242,809.99 243,806.42 244,802.77 245,799.03 246,795.24 247,791.41 248,787.54 249,783.67 250,779.81 251,775.97 252,772.18 253,768.45 254,764.81 255,761.27 256,757.86 257,754.59 258,751.49 259,748.55 260,745.82 261,743.29 262,740.98 263,738.9 264,737.07 265,735.49 266,734.18 267,733.12 268,732.34 269,731.83 270,731.59 271,731.62 272,731.91 273,732.47 274,733.27 275,734.33 276,735.62 277,737.13 278,738.85 279,740.78 280,742.88 281,745.16 282,747.6 283,750.17 284,752.86 285,755.66 286,758.55 287,761.52 288,764.54 289,767.6 290,770.69 291,773.79 292,776.89 293,779.98 294,783.04 295,786.06 296,789.02 297,791.93 298,794.77 299,797.54 300,800.22 301,802.8 302,805.3 303,807.69 304,809.99 305,812.17 306,814.25 307,816.23 308,818.09 309,819.85 310,821.5 311,823.04 312,824.49 313,825.83 314,827.07 315,828.22 316,829.28 317,830.25 318,831.14 319,831.95 320,832.68 321,833.35 322,833.95 323,834.48 324,834.96 325,835.39 326,835.76 327,836.09 328,836.38 329,836.64 330,836.85 331,837.04 332,837.2 333,837.33 334,837.45 335,837.54 336,837.62 337,837.68 338,837.73 339,837.77 340,837.8 341,837.83 342,837.85 343,837.86 344,837.87 345,837.88 346,837.89 347,837.89 348,837.9 349,837.91 350,837.91 351,837.92 352,837.94 353,837.95 354,837.97 355,837.99 356,838.01 357,838.04 358,838.07 359,838.1 360,838.14 361,838.18 362,838.22 363,838.27 364,838.33 365,838.39 366,838.45 367,838.52 368,838.59 369,838.67 370,838.76 371,838.85 372,838.95 373,839.05 374,839.17 375,839.28 376,839.41 377,839.54 378,839.68 379,839.83 380,839.99 381,840.15 382,840.33 383,840.51 384,840.7 385,840.9 386,841.11 387,841.33 388,841.55 389,841.79 390,842.03 391,842.28 392,842.55 393,842.82 394,843.1 395,843.38 396,843.68 397,843.98 398,844.29 399,844.61 400,844.93 401,845.26 402,845.6 403,845.94 404,846.29 405,846.64 406,847 407,847.36 408,847.72 409,848.08 410,848.45 411,848.82 412,849.19 413,849.57 414,849.94 415,850.31 416,850.68 417,851.05 418,851.42 419,851.79 420,852.15 421,852.51 422,852.87 423,853.22 424,853.57 425,853.91 426,854.25 427,854.59 428,854.92 429,855.24 430,855.56 431,855.87 432,856.18 433,856.47 434,856.76 435,857.05 436,857.33 437,857.6 438,857.86 439,858.12 440,858.36 441,858.6 442,858.84 443,859.06 444,859.28 445,859.5 446,859.7 447,859.9 448,860.09 449,860.27 450,860.45 451,860.62 452,860.78 453,860.94 454,861.09 455,861.23 456,861.37 457,861.5 458,861.62 459,861.74 460,861.86 461,861.97 462,862.07 463,862.17 464,862.27 465,862.36 466,862.44 467,862.52 468,862.6 469,862.67 470,862.74 471,862.81 472,862.87 473,862.93 474,862.98 475,863.04 476,863.08 477,863.13 478,863.17 479,863.22 480,863.25 481,863.29 482,863.33 483,863.36 484,863.39 485,863.42 486,863.44 487,863.47 488,863.49 489,863.51 490,863.53 491,863.55 492,863.57 493,863.59 494,863.6 495,863.62 496,863.63 497,863.64 498,863.65 499,863.67 500,863.68 501,863.69 502,863.69 503,863.7 504,863.71 505,863.72 506,863.72 507,863.73 508,863.73 509,863.74 510,863.74 511,863.75 512,863.75 513,863.76 514,863.76 515,863.76 516,863.77 517,863.77 518,863.77 519,863.77 520,863.78 521,863.78 522,863.78 523,863.78 524,863.78 525,863.78 526,863.79 527,863.79 528,863.79 529,863.79 530,863.79 531,863.79 532,863.79 533,863.79 534,863.79 535,863.79 536,863.79 537,863.79 538,863.8 539,863.8 540,863.8 541,863.8 542,863.8 543,863.8 544,863.8 545,863.8 546,863.8 547,863.8 548,863.8 549,863.8 550,863.8 551,863.8 552,863.8 553,863.8 554,863.8 555,863.8 556,863.8 557,863.8 558,863.8 559,863.8 560,863.8 561,863.8 562,863.8 563,863.8 564,863.8 565,863.8 566,863.8 567,863.8 568,863.8 569,863.8 570,863.8 571,863.8 572,863.8 573,863.8 574,863.8 575,863.8 576,863.8 577,863.8 578,863.8 579,863.8 580,863.8 581,863.8 582,863.8 583,863.8 584,863.8 585,863.8 586,863.8 587,863.8 588,863.8 589,863.8 590,863.8 591,863.8 592,863.8 593,863.8 594,863.8 595,863.8 596,863.8 597,863.8 598,863.8 599,863.8 600,863.8 601,863.8 602,863.8 603,863.8 604,863.8 605,863.8 606,863.8 607,863.8 608,863.8 609,863.8 610,863.8 611,863.8 612,863.8 613,863.8 614,863.8 615,863.8 616,863.8 617,863.8 618,863.8 619,863.8 620,863.8 621,863.8 622,863.8 623,863.8 624,863.8 625,863.8 626,863.8 627,863.8 628,863.8 629,863.8" fill="none" stroke="#b878ff" stroke-width="2.8" stroke-linejoin="round" stroke-linecap="round"/><line x1="124.8" y1="863.8" x2="124.8" y2="859.3" stroke="#b878ff" stroke-width="2.45"/><line x1="132.7" y1="863.8" x2="132.7" y2="845.2" stroke="#b878ff" stroke-width="2.45"/><line x1="147.7" y1="863.8" x2="147.7" y2="849.2" stroke="#b878ff" stroke-width="2.45"/><line x1="153.5" y1="863.8" x2="153.5" y2="810.9" stroke="#b878ff" stroke-width="2.45"/><line x1="159.7" y1="863.8" x2="159.7" y2="835.4" stroke="#b878ff" stroke-width="2.45"/><line x1="173.6" y1="863.8" x2="173.6" y2="842.1" stroke="#b878ff" stroke-width="2.45"/><line x1="269.4" y1="863.8" x2="269.4" y2="743.2" stroke="#b878ff" stroke-width="2.45"/><line x1="328.9" y1="863.8" x2="328.9" y2="852.4" stroke="#b878ff" stroke-width="2.45"/><line x1="350.3" y1="863.8" x2="350.3" y2="854.7" stroke="#b878ff" stroke-width="2.45"/><line x1="390.6" y1="863.8" x2="390.6" y2="848.6" stroke="#b878ff" stroke-width="2.45"/></g>
<rect x="123" y="646.9" width="506.6" height="216.9" fill="none" stroke="#000" stroke-width="2"/>
<g font-family="Liberation Sans, sans-serif" font-size="21" fill="#000"><text transform="translate(110.3,871.2) scale(1,1.08)" text-anchor="end">0</text><text transform="translate(110.3,816.97) scale(1,1.08)" text-anchor="end">20,000</text><text transform="translate(110.3,762.75) scale(1,1.08)" text-anchor="end">40,000</text><text transform="translate(110.3,708.52) scale(1,1.08)" text-anchor="end">60,000</text><text transform="translate(642.4,871.2) scale(1,1.08)">0.0</text><text transform="translate(642.4,835.05) scale(1,1.08)">0.2</text><text transform="translate(642.4,798.9) scale(1,1.08)">0.4</text><text transform="translate(642.4,762.75) scale(1,1.08)">0.6</text><text transform="translate(642.4,726.6) scale(1,1.08)">0.8</text><text transform="translate(642.4,690.45) scale(1,1.08)">1.0</text><text transform="translate(21.2,755.35) rotate(-90) scale(1,1.06)" text-anchor="middle">Absorbance</text><text transform="translate(725.3,755.35) rotate(-90) scale(1,1.07)" text-anchor="middle">Oscillator strength</text><text transform="translate(530.8,673.6) scale(0.975,1.04)" text-anchor="end">A3(E)</text><text transform="translate(530.8,694.5) scale(0.975,1.04)" text-anchor="end">A3(Z)</text></g>
<path d="M544.2,666.6H604.4" stroke="#9400d3" stroke-width="2.8"/>
<path d="M544.2,687.5H604.4" stroke="#b878ff" stroke-width="2.8"/>
<g font-family="Liberation Sans, sans-serif" font-size="21" fill="#000"><text transform="translate(123,891.8) scale(1,1.08)" text-anchor="middle">200</text><text transform="translate(249.65,891.8) scale(1,1.08)" text-anchor="middle">250</text><text transform="translate(376.3,891.8) scale(1,1.08)" text-anchor="middle">300</text><text transform="translate(502.95,891.8) scale(1,1.08)" text-anchor="middle">350</text><text transform="translate(629.6,891.8) scale(1,1.08)" text-anchor="middle">400</text><text x="376.2" y="922.5" text-anchor="middle">Wavelength [nm]</text></g>
</svg></body></html>
